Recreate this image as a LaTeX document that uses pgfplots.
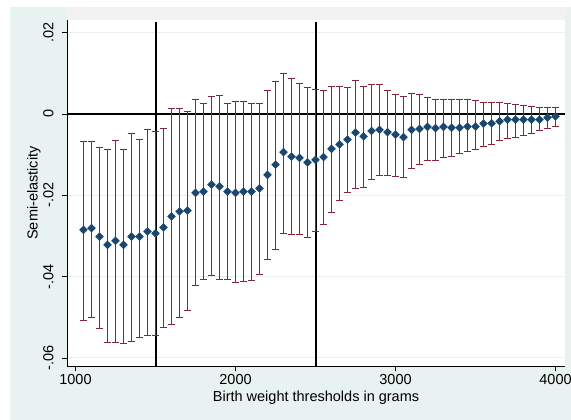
\documentclass[border=0pt]{standalone}
\usepackage{fontspec}
\setmainfont{Liberation Sans}
\usepackage{pgfplots}
\pgfplotsset{compat=1.18}
\usepackage{pgfplotstable}
\definecolor{graphbg}{RGB}{232,242,240}
\definecolor{stripbg}{RGB}{242,242,242}
\definecolor{snavy}{RGB}{26,71,111}
\definecolor{smaroon}{RGB}{128,40,56}
\definecolor{gridc}{RGB}{232,240,240}

\pgfplotstableread{
x y lo hi
1050 -0.0285 -0.0507 -0.0067
1100 -0.0281 -0.0501 -0.0067
1150 -0.0302 -0.0528 -0.0083
1200 -0.0322 -0.0562 -0.0086
1250 -0.0312 -0.0562 -0.0065
1300 -0.0322 -0.0564 -0.0086
1350 -0.0302 -0.0560 -0.0049
1400 -0.0302 -0.0550 -0.0062
1450 -0.0289 -0.0544 -0.0038
1500 -0.0294 -0.0544 -0.0042
1550 -0.0279 -0.0525 -0.0035
1600 -0.0252 -0.0517 0.0013
1650 -0.0240 -0.0500 0.0013
1700 -0.0238 -0.0482 0.0006
1750 -0.0194 -0.0422 0.0036
1800 -0.0191 -0.0406 0.0025
1850 -0.0174 -0.0398 0.0043
1900 -0.0178 -0.0406 0.0046
1950 -0.0191 -0.0408 0.0025
2000 -0.0194 -0.0414 0.0030
2050 -0.0191 -0.0412 0.0032
2100 -0.0191 -0.0410 0.0027
2150 -0.0183 -0.0394 0.0025
2200 -0.0150 -0.0357 0.0058
2250 -0.0125 -0.0332 0.0081
2300 -0.0094 -0.0294 0.0099
2350 -0.0105 -0.0295 0.0087
2400 -0.0108 -0.0295 0.0074
2450 -0.0119 -0.0303 0.0065
2500 -0.0113 -0.0289 0.0060
2550 -0.0106 -0.0272 0.0058
2600 -0.0086 -0.0242 0.0068
2650 -0.0075 -0.0213 0.0068
2700 -0.0063 -0.0193 0.0066
2750 -0.0046 -0.0184 0.0083
2800 -0.0055 -0.0180 0.0068
2850 -0.0042 -0.0160 0.0072
2900 -0.0039 -0.0150 0.0072
2950 -0.0045 -0.0151 0.0058
3000 -0.0051 -0.0154 0.0048
3050 -0.0057 -0.0156 0.0043
3100 -0.0039 -0.0133 0.0051
3150 -0.0037 -0.0123 0.0047
3200 -0.0032 -0.0113 0.0040
3250 -0.0035 -0.0113 0.0037
3300 -0.0032 -0.0108 0.0036
3350 -0.0034 -0.0105 0.0035
3400 -0.0034 -0.0098 0.0035
3450 -0.0031 -0.0092 0.0035
3500 -0.0031 -0.0086 0.0033
3550 -0.0024 -0.0080 0.0029
3600 -0.0023 -0.0075 0.0029
3650 -0.0018 -0.0065 0.0029
3700 -0.0014 -0.0061 0.0027
3750 -0.0014 -0.0057 0.0023
3800 -0.0014 -0.0053 0.0020
3850 -0.0014 -0.0047 0.0018
3900 -0.0014 -0.0041 0.0015
3950 -0.0009 -0.0036 0.0015
4000 -0.0006 -0.0031 0.0015
}\datatable

\begin{document}
\begin{tikzpicture}
\fill[white] (0bp,0bp) rectangle (571bp,420bp);
\fill[graphbg] (10bp,0bp) rectangle (571bp,413bp);
\fill[stripbg] (67bp,400bp) rectangle (565bp,413bp);
\fill[white] (67bp,54bp) rectangle (565bp,400bp);
\useasboundingbox (0bp,0bp) rectangle (571bp,420bp);
\begin{axis}[
  at={(67bp,54bp)}, anchor=south west,
  scale only axis, width=498bp, height=346bp,
  xmin=946.9, xmax=4059.4, ymin=-0.0620, ymax=0.0231,
  axis x line*=bottom, axis y line*=left,
  axis line style={-, black, line width=0.7bp},
  tick align=outside, major tick length=5bp,
  tick style={black, line width=0.7bp},
  minor tick num=0,
  xtick={1000,2000,3000,4000}, xticklabels={1000,2000,3000,4000},
  ytick={-0.06,-0.04,-0.02,0,0.02}, yticklabels={-.06,-.04,-.02,0,.02},
  scaled y ticks=false, scaled x ticks=false,
  ymajorgrids, grid style={gridc, line width=0.8bp},
  xlabel={Birth weight thresholds in grams}, ylabel={Semi-elasticity},
  label style={font=\fontsize{14.5bp}{16bp}\selectfont},
  tick label style={font=\fontsize{14.5bp}{16bp}\selectfont},
  xlabel style={at={(axis description cs:0.5,0)}, anchor=center, yshift=-32bp},
  ylabel style={at={(axis description cs:0,0.5)}, anchor=center, yshift=33bp},
  yticklabel style={rotate=90, anchor=south, yshift=5bp},
]
\addplot[black, line width=1.2bp, forget plot] coordinates {(946.9,0) (4059.4,0)};
\addplot[black, line width=2bp, forget plot] coordinates {(1500,-0.062) (1500,0.0227)};
\addplot[black, line width=2bp, forget plot] coordinates {(2500,-0.062) (2500,0.0227)};
\addplot[color=smaroon, only marks, mark=square*, mark size=2.8bp,
  mark options={rotate=45, fill=snavy, draw=snavy},
  error bars/.cd, y dir=both, y explicit,
  error bar style={color=smaroon, line width=0.7bp},
  error mark=|,
  error mark options={color=smaroon, mark size=3.5bp, line width=0.7bp}]
  table[x=x, y=y, y error plus expr=\thisrow{hi}-\thisrow{y}, y error minus expr=\thisrow{y}-\thisrow{lo}] {\datatable};
\end{axis}
\end{tikzpicture}
\end{document}
